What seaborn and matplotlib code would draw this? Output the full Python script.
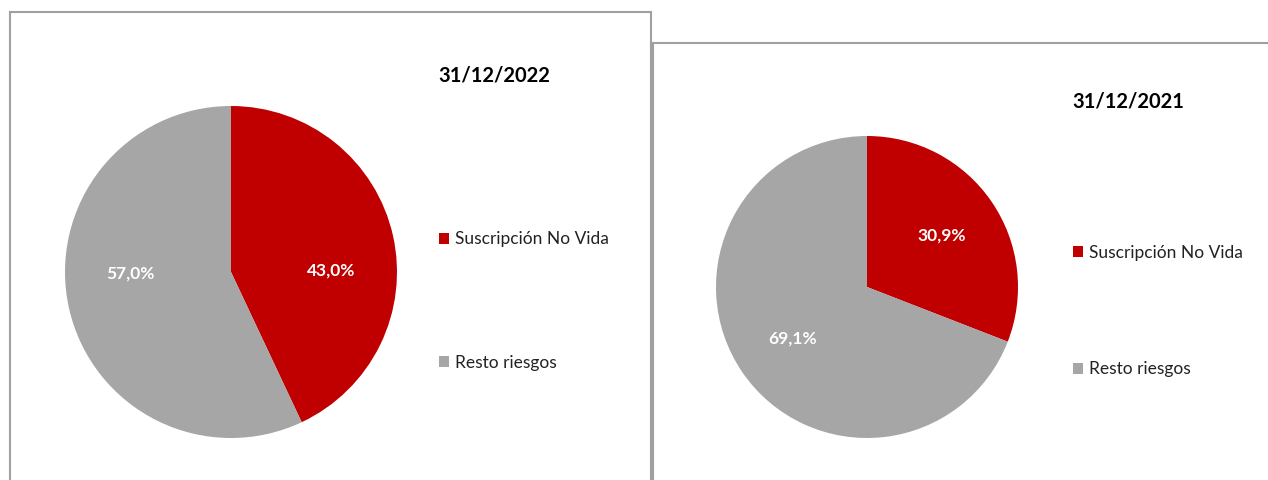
import matplotlib
matplotlib.use("Agg")
import matplotlib.pyplot as plt
from matplotlib.patches import Rectangle
import seaborn as sns

sns.set_theme(style="white")
plt.rcParams["font.family"] = ["Lato", "DejaVu Sans"]

# data
categories = ["Suscripción No Vida", "Resto riesgos"]
values_2022 = [43.0, 57.0]
values_2021 = [30.9, 69.1]
titles = ["31/12/2022", "31/12/2021"]
colors = ["#C00000", "#A6A6A6"]

W, H = 1268, 480
fig = plt.figure(figsize=(W / 100, H / 100), dpi=100)


def px_axes(cx, cy, r):
    # axes square centred on pixel (cx, cy) from top-left
    return fig.add_axes([(cx - r) / W, (H - cy - r) / H, 2 * r / W, 2 * r / H])


def fmt(p):
    return f"{p:.1f}%".replace(".", ",")


panels = [
    dict(vals=values_2022, title=titles[0], pie=(231, 272, 166), title_xy=(494, 75),
         leg=(430, 301), spacing=6.2, box=(10, 12, 641), pctd=0.62, yshrink=0.05),
    dict(vals=values_2021, title=titles[1], pie=(867, 287, 151), title_xy=(1128, 102),
         leg=(1064, 311), spacing=5.8, box=(653, 43, 700), pctd=0.6, yshrink=1.0),
]

for p in panels:
    bx, by, bw = p["box"]
    fig.patches.append(Rectangle((bx / W, -0.1), bw / W, (H - by) / H + 0.1,
                                 transform=fig.transFigure, fill=False,
                                 edgecolor="#A0A0A0", linewidth=1.5))
    ax = px_axes(*p["pie"])
    wedges, _, autotexts = ax.pie(p["vals"], colors=colors, startangle=90, counterclock=False,
                                  autopct=lambda v: fmt(v), pctdistance=p["pctd"],
                                  wedgeprops=dict(linewidth=0))
    for t in autotexts:
        x, y = t.get_position()
        t.set_position((x, y * p["yshrink"]))
        t.set_color("white")
        t.set_fontweight("bold")
        t.set_fontsize(12.5)
    ax.set_xlim(-1, 1)
    ax.set_ylim(-1, 1)
    ax.axis("off")
    tx, ty = p["title_xy"]
    fig.text(tx / W, 1 - ty / H, p["title"], ha="center", va="center",
             fontsize=14.5, fontweight="bold", color="black")
    lx, ly = p["leg"]
    fig.legend(wedges, categories, loc="center left", bbox_to_anchor=(lx / W, 1 - ly / H),
               bbox_transform=fig.transFigure, frameon=False, fontsize=12.5,
               handlelength=0.6, handleheight=0.6, handletextpad=0.35,
               labelspacing=p["spacing"], borderpad=0, labelcolor="#222222")

fig.savefig("out.png", dpi=100)
